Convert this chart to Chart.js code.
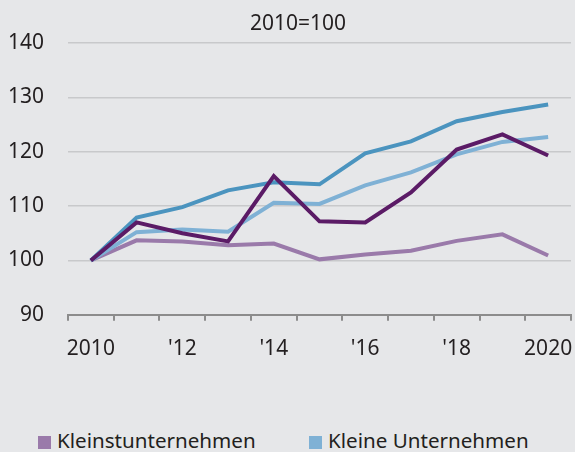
<!DOCTYPE html>
<html>
<head>
<meta charset="utf-8">
<script src="https://cdn.jsdelivr.net/npm/chart.js@4"></script>
<style>
  body { margin: 0; background: #e6e7e9; }
  #wrap { position: relative; width: 575px; height: 452px; overflow: hidden; font-family: "Noto Sans", sans-serif; color: #231f20; }
  #box { position: absolute; left: 0; top: 0; width: 575px; height: 380px; }
  #title { position: absolute; top: 9px; left: 198px; width: 200px; text-align: center; font-size: 21px; line-height: 26px; }
  .leg { position: absolute; top: 428px; font-size: 20.6px; white-space: nowrap; line-height: 24px; }
  .leg span.sw { display: inline-block; width: 13px; height: 13px; margin-right: 6px; vertical-align: -1px; }
</style>
</head>
<body>
<div id="wrap">
  <div id="box"><canvas id="chart"></canvas></div>
  <div id="title">2010=100</div>
  <div id="legend"></div>
</div>
<script>
// Index 2010=100
const years = ['2010', '2011', '2012', '2013', '2014', '2015', '2016', '2017', '2018', '2019', '2020'];
const tickLabels = ['2010', '', "'12", '', "'14", '', "'16", '', "'18", '', '2020'];
const yTicks = [90, 100, 110, 120, 130, 140];

const kleinst = [100, 103.7, 103.5, 102.8, 103.1, 100.2, 101.1, 101.8, 103.6, 104.8, 100.9];
const kleine = [100, 105.2, 105.7, 105.3, 110.6, 110.4, 113.8, 116.2, 119.5, 121.8, 122.7];
const mittlere = [100, 107.0, 105.0, 103.5, 115.5, 107.2, 107.0, 112.5, 120.4, 123.2, 119.3];
const grosse = [100, 107.9, 109.8, 112.9, 114.4, 114.0, 119.7, 121.9, 125.6, 127.3, 128.7];

const font = { family: 'Noto Sans', size: 21 };
const textColor = '#231f20';

function line(label, data, color, order) {
  return {
    label: label,
    data: data,
    borderColor: color,
    backgroundColor: color,
    borderWidth: 4,
    pointRadius: 0,
    tension: 0,
    order: order
  };
}

const datasets = [
  line('Kleinstunternehmen', kleinst, '#9a7aaa', 3),
  line('Kleine Unternehmen', kleine, '#7fb1d5', 2),
  line('Mittlere Unternehmen', mittlere, '#5b1b66', 0),
  line('Großunternehmen', grosse, '#4b94bf', 1)
];

new Chart(document.getElementById('chart'), {
  type: 'line',
  data: { labels: years, datasets: datasets },
  options: {
    responsive: true,
    maintainAspectRatio: false,
    animation: false,
    layout: { padding: { left: 8, right: 4, top: 43, bottom: 2 } },
    plugins: {
      legend: { display: false },
      tooltip: { enabled: false }
    },
    scales: {
      x: {
        offset: true,
        afterFit: axis => { axis.paddingLeft = 0; axis.paddingRight = 0; },
        grid: { offset: true, drawOnChartArea: false, drawTicks: true, tickLength: 6, color: '#8c8c8c', lineWidth: 2 },
        border: { display: true, color: '#8c8c8c', width: 2 },
        ticks: {
          autoSkip: false,
          maxRotation: 0,
          padding: 16,
          color: textColor,
          font: font,
          callback: (v, i) => tickLabels[i]
        }
      },
      y: {
        min: 90,
        max: 140,
        afterBuildTicks: axis => { axis.ticks = yTicks.map(v => ({ value: v })); },
        afterFit: axis => { axis.width = 60; axis.paddingTop = 0; axis.paddingBottom = 0; },
        grid: {
          drawTicks: false,
          color: ctx => ctx.tick && ctx.tick.value === 90 ? 'rgba(0,0,0,0)' : '#c8c9cb',
          lineWidth: 1.5
        },
        border: { display: false },
        ticks: { padding: 24, color: textColor, font: font }
      }
    }
  }
});

// legend (only the first row is visible in the picture)
const legendPos = [38, 309];
const legend = document.getElementById('legend');
legendPos.forEach((x, i) => {
  const d = datasets[i];
  const el = document.createElement('div');
  el.className = 'leg';
  el.style.left = x + 'px';
  el.innerHTML = '<span class="sw" style="background:' + d.borderColor + '"></span>' + d.label;
  legend.appendChild(el);
});
</script>
</body>
</html>
